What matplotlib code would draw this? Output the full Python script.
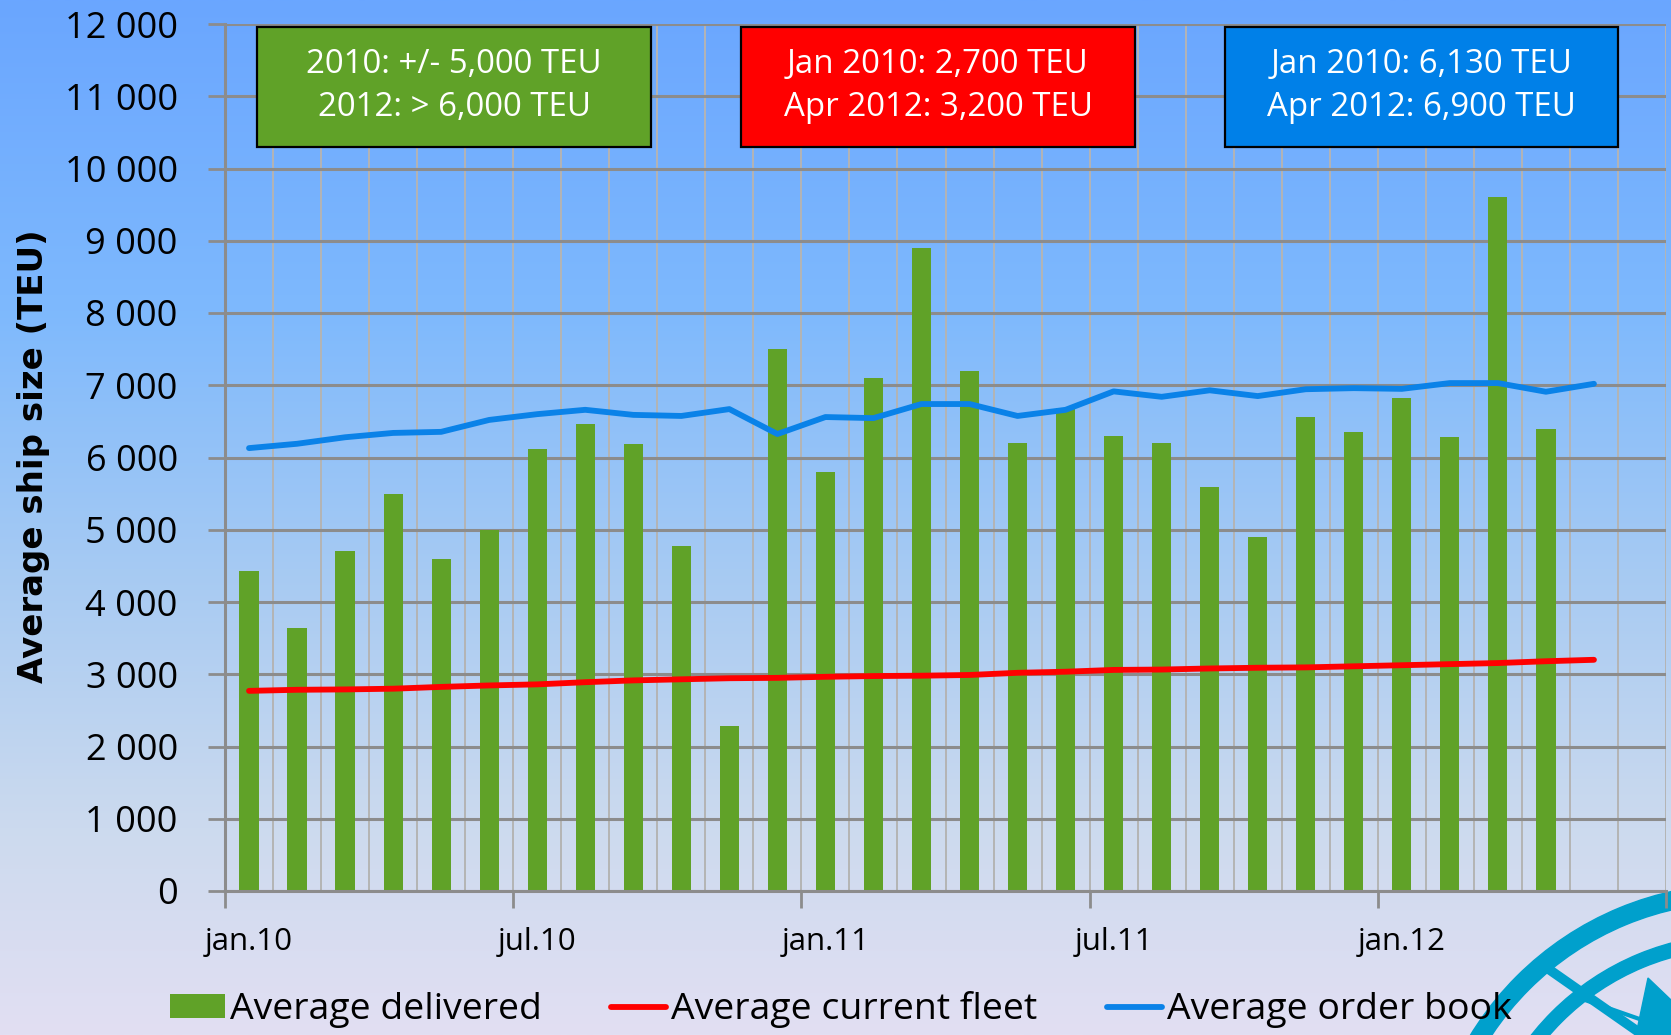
import numpy as np
import matplotlib
matplotlib.use("Agg")
import matplotlib.pyplot as plt
from matplotlib.patches import Rectangle, Wedge, Polygon

# ---------------- data ----------------
months = ["2010-01", "2010-02", "2010-03", "2010-04", "2010-05", "2010-06",
          "2010-07", "2010-08", "2010-09", "2010-10", "2010-11", "2010-12",
          "2011-01", "2011-02", "2011-03", "2011-04", "2011-05", "2011-06",
          "2011-07", "2011-08", "2011-09", "2011-10", "2011-11", "2011-12",
          "2012-01", "2012-02", "2012-03", "2012-04", "2012-05", "2012-06"]

delivered = [4430, 3640, 4700, 5500, 4590, 5000, 6120, 6460, 6180, 4780,
             2290, 7500, 5800, 7100, 8900, 7200, 6200, 6690, 6300, 6200,
             5590, 4900, 6560, 6350, 6830, 6290, 9600, 6390]

current_fleet = [2770, 2785, 2790, 2800, 2825, 2845, 2860, 2890, 2915, 2930,
                 2945, 2950, 2965, 2975, 2980, 2990, 3020, 3035, 3060, 3065,
                 3080, 3090, 3095, 3110, 3125, 3140, 3155, 3180, 3200]

order_book = [6130, 6190, 6280, 6340, 6355, 6520, 6600, 6660, 6590, 6575,
              6670, 6325, 6560, 6545, 6740, 6740, 6575, 6660, 6915, 6840,
              6930, 6850, 6945, 6960, 6950, 7030, 7030, 6910, 7020]

tick_months = ["2010-01", "2010-07", "2011-01", "2011-07", "2012-01"]
tick_labels = ["jan.10", "jul.10", "jan.11", "jul.11", "jan.12"]
y_ticks = [0, 1000, 2000, 3000, 4000, 5000, 6000, 7000, 8000, 9000, 10000, 11000, 12000]

series_names = ["Average delivered", "Average current fleet", "Average order book"]
y_label = "Average ship size (TEU)"

box_texts = ["2010: +/- 5,000 TEU\n2012: > 6,000 TEU",
             "Jan 2010: 2,700 TEU\nApr 2012: 3,200 TEU",
             "Jan 2010: 6,130 TEU\nApr 2012: 6,900 TEU"]

# ---------------- style ----------------
plt.rcParams['font.family'] = ['Open Sans', 'DejaVu Sans']
W, H = 1671, 1035
GREEN = "#60A228"
RED = "#FF0000"
BLUE_LINE = "#0A82E8"
BLUE_BOX = "#0080E8"
HGRID = "#8C8C8C"
VGRID = "#B4B4B4"

fig = plt.figure(figsize=(W / 100, H / 100), dpi=100)

# background gradient + logo
bg = fig.add_axes([0, 0, 1, 1], zorder=0)
stops = np.array([0.0, 0.30, 0.55, 0.80, 1.0])
cols = np.array([[106, 166, 255], [126, 185, 253], [166, 202, 243],
                 [204, 218, 238], [226, 223, 243]]) / 255.0
yy = np.linspace(0, 1, 400)
grad = np.stack([np.interp(yy, stops, cols[:, c]) for c in range(3)], axis=1)
bg.imshow(grad[:, None, :], extent=(0, W, H, 0), aspect='auto')
bg.set_xlim(0, W)
bg.set_ylim(H, 0)
bg.axis('off')
LOGO = "#00A0CC"
bg.add_patch(Wedge((1740, 1200), 316, 0, 360, width=18, color=LOGO))
bg.add_patch(Wedge((1740, 1200), 266, 0, 360, width=14, color=LOGO))
bg.plot([1547, 1650], [968, 1040], color=LOGO, lw=7, solid_capstyle='butt')
bg.plot([1585, 1671], [1000, 1030], color=LOGO, lw=3)
bg.add_patch(Polygon([(1648, 978), (1671, 1000), (1671, 1035), (1636, 1035)],
                     closed=True, color=LOGO))

# main axes
ax = fig.add_axes([225 / W, (H - 891) / H, (1666 - 225) / W, (891 - 24) / H], zorder=1)
ax.set_facecolor('none')
x_all = np.arange(len(months))
x_bar = x_all[:len(delivered)]
x_line = x_all[:len(order_book)]

bars = ax.bar(x_bar, delivered, width=0.4, color=GREEN, zorder=2, label=series_names[0])
l_red, = ax.plot(x_line, current_fleet, color=RED, lw=4.2, zorder=3,
                 solid_capstyle='round', label=series_names[1])
l_blue, = ax.plot(x_line, order_book, color=BLUE_LINE, lw=4.2, zorder=3,
                  solid_capstyle='round', label=series_names[2])

ax.set_xlim(-0.5, len(months) - 0.5)
ax.set_ylim(0, 12000)
ax.set_axisbelow(True)

# y axis
ax.set_yticks(y_ticks)
ax.set_yticklabels([f"{v:,}".replace(",", " ") for v in y_ticks])
ax.tick_params(axis='y', length=12, width=2, color=HGRID, pad=22, labelsize=26)
ax.grid(axis='y', which='major', color=HGRID, lw=2.2)

# x axis
ax.set_xticks([months.index(m) for m in tick_months])
ax.set_xticklabels(tick_labels)
ax.tick_params(axis='x', which='major', length=0, pad=26, labelsize=22.5)
bounds = np.arange(-0.5, len(months), 1.0)
ax.set_xticks(bounds, minor=True)
ax.tick_params(axis='x', which='minor', length=12, width=2, color=HGRID)
for k, t in enumerate(ax.xaxis.get_minor_ticks()):
    t.tick1line.set_visible(k % 6 == 0)
ax.grid(axis='x', which='minor', color=VGRID, lw=1.4)
ax.grid(axis='x', which='major', visible=False)

for s in ['top', 'right']:
    ax.spines[s].set_visible(False)
for s in ['left', 'bottom']:
    ax.spines[s].set_color(HGRID)
    ax.spines[s].set_linewidth(2.2)

fig.text(34 / W, 1 - 456 / H, y_label, rotation=90, ha='center', va='center',
         fontsize=24.5, fontweight='bold', family='DejaVu Sans')

ax.legend(handles=[bars, l_red, l_blue], loc='center left',
          bbox_to_anchor=(170 / W, 1 - 1010 / H), bbox_transform=fig.transFigure,
          ncol=3, frameon=False, fontsize=26.9, borderpad=0, borderaxespad=0,
          handlelength=1.47, handletextpad=0.14, columnspacing=1.85, handleheight=0.62)

# annotation boxes
ov = fig.add_axes([0, 0, 1, 1], zorder=3)
ov.set_xlim(0, W)
ov.set_ylim(H, 0)
ov.axis('off')
box_x = [(257, 651), (741, 1135), (1225, 1618)]
box_c = [GREEN, RED, BLUE_BOX]
for (x0, x1), c, txt in zip(box_x, box_c, box_texts):
    ov.add_patch(Rectangle((x0, 27), x1 - x0, 120, facecolor=c, edgecolor='black', lw=1.6))
    ov.text((x0 + x1) / 2, 86, txt, ha='center', va='center', color='white',
            fontsize=23.8, linespacing=1.4)

fig.savefig("out.png", dpi=100)
